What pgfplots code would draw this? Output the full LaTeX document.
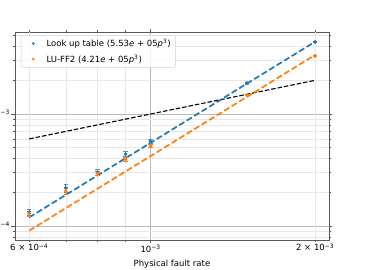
\documentclass[border=0pt]{standalone}
\usepackage{fontspec}
\setmainfont{DejaVu Sans}
\usepackage{pgfplots}
\pgfplotsset{compat=1.18}
\definecolor{mblue}{HTML}{1F77B4}
\definecolor{morange}{HTML}{FF7F0E}
\begin{document}
\fontsize{8.5pt}{10pt}\selectfont
\begin{tikzpicture}[x=1pt,y=1pt]
\begin{scope}
\clip (0,0) rectangle (370,270);
\begin{axis}[
  at={(15pt,30pt)}, anchor=south west,
  scale only axis, width=314pt, height=208pt,
  xmode=log, ymode=log,
  xmin=5.65e-4, xmax=2.12e-3, ymin=7.5e-5, ymax=5.4e-3,
  xtick={1e-3}, xticklabels={10\textsuperscript{−3}},
  extra x ticks={6e-4,2e-3},
  extra x tick labels={6 × 10\textsuperscript{−4}, 2 × 10\textsuperscript{−3}},
  extra x tick style={major grid style={gray!18, line width=0.6pt}, major tick length=2pt},
  minor xtick={7e-4,8e-4,9e-4},
  ytick={1e-4,1e-3}, yticklabels={10\textsuperscript{−4}, 10\textsuperscript{−3}},
  minor ytick={8e-5,9e-5,2e-4,3e-4,4e-4,5e-4,6e-4,7e-4,8e-4,9e-4,2e-3,3e-3,4e-3,5e-3},
  grid=both,
  major grid style={gray!55, line width=0.6pt},
  minor grid style={gray!18, line width=0.6pt},
  axis line style={black!65, line width=0.6pt},
  tick style={black!65, line width=0.6pt},
  tick align=outside,
  major tick length=3.5pt, minor tick length=2pt,
  ticklabel style={font=\fontsize{8.5pt}{10pt}\selectfont, inner sep=1.5pt},
  xlabel={Physical fault rate},
  xlabel style={font=\fontsize{8.5pt}{10pt}\selectfont, yshift=3pt},
  legend cell align=left,
  legend style={at={(0.019,0.985)}, anchor=north west, draw=gray!35,
    rounded corners=2pt, fill=white, fill opacity=0.8, text opacity=1,
    font=\fontsize{8.5pt}{10pt}\selectfont, inner xsep=3pt, inner ysep=2pt,
    row sep=3pt, cells={anchor=west}},
  legend image code/.code={\path (0pt,0pt) (20pt,0pt); \path[mark size=1.2pt] plot[only marks, mark=*] coordinates {(9pt,0pt)};},
]
% reference line y = p
\addplot[black, line width=1.1pt, dash pattern=on 4.5pt off 2pt, forget plot]
  coordinates {(6e-4,6e-4) (2e-3,2e-3)};
% fit lines
\addplot[mblue, line width=1.7pt, dash pattern=on 6pt off 2.8pt, forget plot]
  coordinates {(6e-4,1.1945e-4) (2e-3,4.424e-3)};
\addplot[morange, line width=1.7pt, dash pattern=on 6pt off 2.8pt, forget plot]
  coordinates {(6e-4,9.094e-5) (2e-3,3.368e-3)};
% data
\addplot[mblue, only marks, mark=*, mark size=1.7pt,
  error bars/.cd, y dir=both, y explicit relative,
  error bar style={mblue!80, line width=0.8pt},
  error mark options={rotate=90, mark size=2.2pt, mblue!80, line width=0.8pt}]
  coordinates {
  (6e-4,1.33e-4) +- (0,0.065)
  (7e-4,2.18e-4) +- (0,0.09)
  (8e-4,3.03e-4) +- (0,0.06)
  (9e-4,4.39e-4) +- (0,0.05)
  (1e-3,5.70e-4) +- (0,0.045)
  (1.5e-3,1.89e-3) +- (0,0.02)
  (2e-3,4.39e-3) +- (0,0.01)
  };
\addlegendentry{Look up table (5.53\textit{e} + 05\textit{p}\textsuperscript{3})}
\addplot[morange, only marks, mark=*, mark size=1.7pt,
  error bars/.cd, y dir=both, y explicit relative,
  error bar style={morange, line width=0.8pt},
  error mark options={rotate=90, mark size=2.2pt, morange, line width=0.8pt}]
  coordinates {
  (6e-4,1.29e-4) +- (0,0.05)
  (7e-4,2.05e-4) +- (0,0.07)
  (8e-4,2.95e-4) +- (0,0.05)
  (9e-4,3.94e-4) +- (0,0.04)
  (1e-3,5.18e-4) +- (0,0.035)
  (1.5e-3,1.48e-3) +- (0,0.015)
  (2e-3,3.30e-3) +- (0,0.01)
  };
\addlegendentry{LU-FF2 (4.21\textit{e} + 05\textit{p}\textsuperscript{3})}
\end{axis}
\end{scope}
\pgfresetboundingbox
\useasboundingbox (0,0) rectangle (370,270);
\end{tikzpicture}
\end{document}
